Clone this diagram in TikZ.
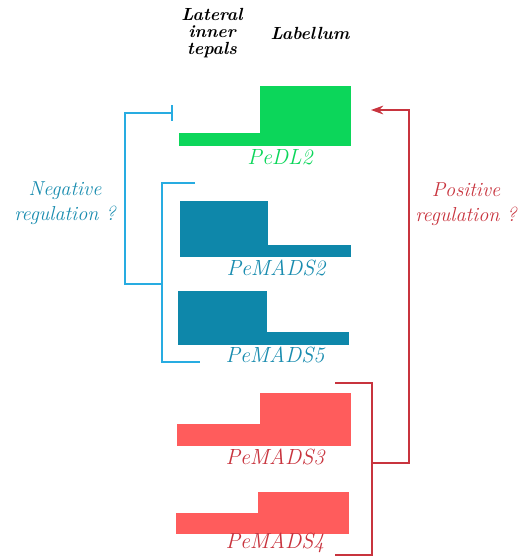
\documentclass[tikz,border=0pt]{standalone}
\usepackage[dvipsnames]{xcolor}
\definecolor{leafgreen}{RGB}{12,214,90}
\definecolor{tealbox}{RGB}{14,135,170}
\definecolor{tealtext}{RGB}{25,140,175}
\definecolor{skyline}{RGB}{40,172,225}
\definecolor{salmon}{RGB}{255,92,92}
\definecolor{brick}{RGB}{200,52,62}
\usepackage{tikz}
\usetikzlibrary{arrows.meta,positioning}

\begin{document}
\begin{tikzpicture}[x=0.02cm, y=-0.02cm,
    genelabel/.style={font=\fontsize{12.5}{15}\selectfont\itshape, inner sep=0pt},
    header/.style={align=center, font=\fontsize{10}{9.5}\selectfont\bfseries\itshape, inner sep=0pt},
    regtext/.style={align=center, font=\fontsize{11.5}{14}\selectfont\itshape, inner sep=0pt},
    link/.style={line width=0.9pt}]
  \useasboundingbox (0,0) rectangle (517,557);
  % En-tetes
  \node[header] (lateral) at (212,33) {Lateral\\inner\\tepals};
  \node[header] (labellum) at (310,33) {Labellum};
  % PeDL2
  \fill[leafgreen] (179,133) rectangle (260,146);
  \fill[leafgreen] (260,86) rectangle (351,146);
  \node[genelabel, text=leafgreen] (dl2) at (280,157) {PeDL2};
  % PeMADS2
  \fill[tealbox] (180,201) rectangle (268,257);
  \fill[tealbox] (268,245) rectangle (351,257);
  \node[genelabel, text=tealtext] (mads2) at (276,268) {PeMADS2};
  % PeMADS5
  \fill[tealbox] (178,291) rectangle (267,345);
  \fill[tealbox] (267,332) rectangle (349,345);
  \node[genelabel, text=tealtext] (mads5) at (275,355) {PeMADS5};
  % PeMADS3
  \fill[salmon] (177,424) rectangle (260,446);
  \fill[salmon] (260,393) rectangle (351,446);
  \node[genelabel, text=brick] (mads3) at (275,457) {PeMADS3};
  % PeMADS4
  \fill[salmon] (176,513) rectangle (258,534);
  \fill[salmon] (258,492) rectangle (349,534);
  \node[genelabel, text=brick] (mads4) at (275,543) {PeMADS4};
  % Accolades
  \coordinate (tealtop) at (195,183);
  \coordinate (tealbot) at (200,362);
  \coordinate (tealmid) at (162,284);
  \coordinate (dl2stop) at (173,113);
  \coordinate (redtop) at (335,383);
  \coordinate (redbot) at (335,555);
  \coordinate (redmid) at (372,463);
  \coordinate (dl2goal) at (371,110);
  \draw[link, skyline] (tealtop) -- (162,183) -- (162,362) -- (tealbot);
  \draw[link, skyline, -{Bar[width=9pt]}] (tealmid) -- (125,284) -- (125,113) -- (dl2stop);
  \draw[link, brick] (redtop) -- (372,383) -- (372,555) -- (redbot);
  \draw[link, brick, -{Stealth[length=7pt, width=5pt]}] (redmid) -- (409,463) -- (409,110) -- (dl2goal);
  % Regulations
  \node[regtext, text=tealtext] (negreg) at (65,203) {Negative\\regulation ?};
  \node[regtext, text=brick] (posreg) at (466,204) {Positive\\regulation ?};
\end{tikzpicture}
\end{document}
